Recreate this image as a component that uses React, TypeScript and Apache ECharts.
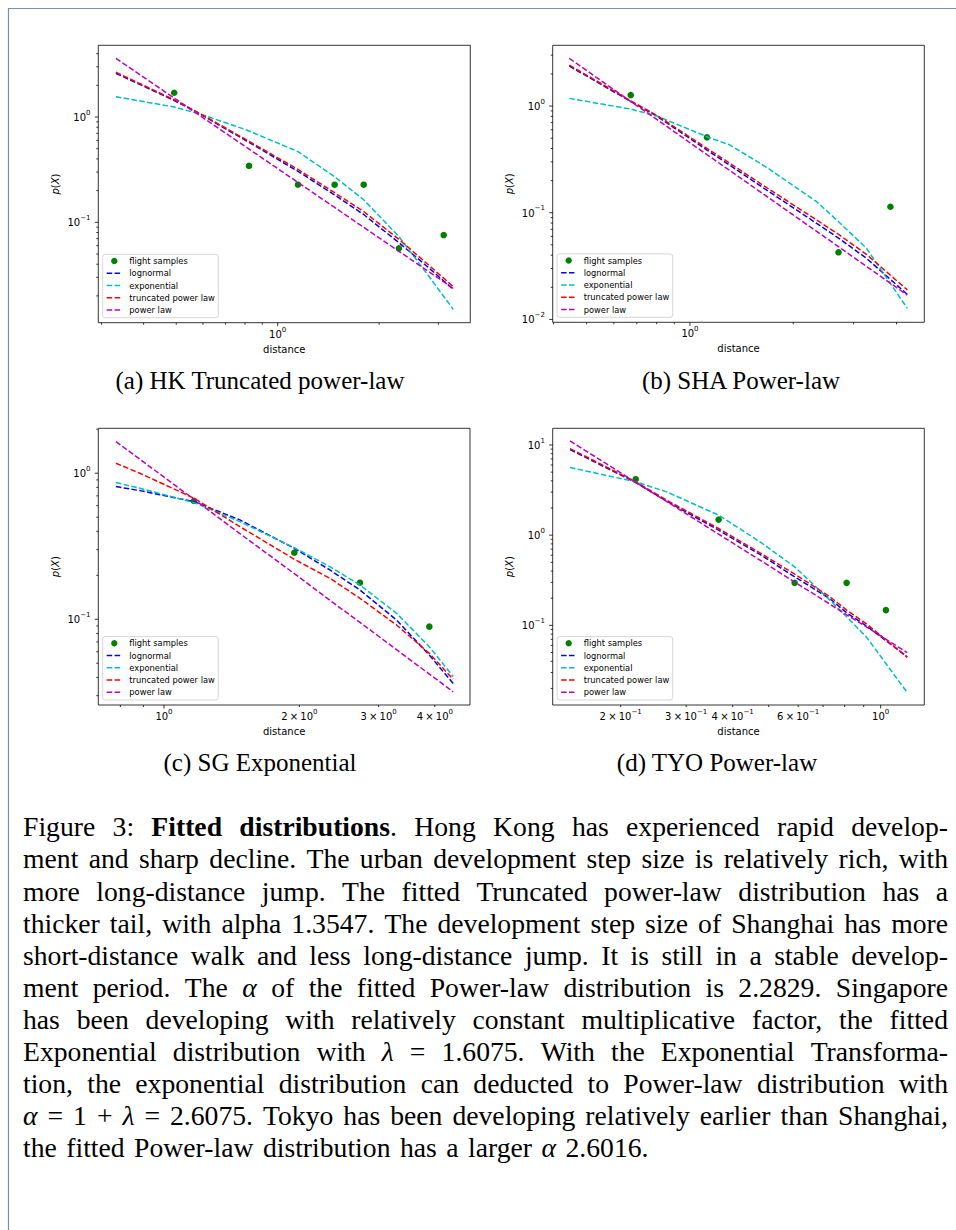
import React, { useEffect, useRef } from 'react';
import * as echarts from 'echarts';

// ---------- data ----------
// (a) HK
const HK_X_RANGE = [0.2935, 3.73];
const HK_Y_RANGE = [0.01113, 4.8];
const HK_SAMPLES_X = [0.493, 0.822, 1.149, 1.476, 1.8, 2.29, 3.11];
const HK_SAMPLES_Y = [1.7, 0.343, 0.2275, 0.2275, 0.2275, 0.0566, 0.0757];
const HK_FIT_X = [0.331, 0.49, 0.588, 0.809, 1.149, 1.476, 1.803, 2.291, 2.767, 3.32];
const HK_LOGNORMAL = [2.6, 1.45, 1.07, 0.592, 0.305, 0.182, 0.118, 0.064, 0.0385, 0.0231];
const HK_EXPONENTIAL = [1.56, 1.25, 1.07, 0.753, 0.469, 0.271, 0.163, 0.073, 0.0328, 0.0149];
const HK_TRUNCATED = [2.66, 1.47, 1.08, 0.605, 0.318, 0.191, 0.126, 0.0689, 0.0408, 0.0245];
const HK_POWERLAW = [3.61, 1.534, 1.03, 0.514, 0.239, 0.1383, 0.0893, 0.053, 0.0351, 0.0236];
const HK_X_TICKS = [0.3, 0.4, 0.5, 0.6, 0.7, 0.8, 0.9, 1, 2, 3];
const HK_X_LABELS = [1];
const HK_Y_TICKS = [0.02, 0.03, 0.04, 0.05, 0.06, 0.07, 0.08, 0.09, 0.1, 0.2, 0.3, 0.4, 0.5, 0.6, 0.7, 0.8, 0.9, 1, 2, 3, 4];
const HK_Y_LABELS = [0.1, 1];

// (b) SHA
const SHA_X_RANGE = [0.398, 4.82];
const SHA_Y_RANGE = [0.0094, 3.71];
const SHA_SAMPLES_X = [0.672, 1.121, 2.71, 3.84];
const SHA_SAMPLES_Y = [1.268, 0.509, 0.0426, 0.1138];
const SHA_FIT_X = [0.445, 0.671, 0.8, 1.121, 1.308, 1.674, 2.34, 2.71, 3.27, 4.3];
const SHA_LOGNORMAL = [2.37, 1.106, 0.806, 0.387, 0.278, 0.163, 0.0795, 0.0579, 0.0374, 0.0172];
const SHA_EXPONENTIAL = [1.18, 0.937, 0.806, 0.516, 0.431, 0.266, 0.1268, 0.0824, 0.0464, 0.0127];
const SHA_TRUNCATED = [2.42, 1.122, 0.818, 0.401, 0.29, 0.1716, 0.0855, 0.0627, 0.0407, 0.0189];
const SHA_POWERLAW = [2.8, 1.106, 0.75, 0.35, 0.248, 0.1423, 0.0669, 0.0481, 0.0314, 0.0169];
const SHA_X_TICKS = [0.4, 0.5, 0.6, 0.7, 0.8, 0.9, 1, 2, 3, 4];
const SHA_X_LABELS = [1];
const SHA_Y_TICKS = [0.01, 0.02, 0.03, 0.04, 0.05, 0.06, 0.07, 0.08, 0.09, 0.1, 0.2, 0.3, 0.4, 0.5, 0.6, 0.7, 0.8, 0.9, 1, 2, 3];
const SHA_Y_LABELS = [0.01, 0.1, 1];

// (c) SG
const SG_X_RANGE = [0.7145, 4.79];
const SG_Y_RANGE = [0.0259, 2.03];
const SG_SAMPLES_X = [1.166, 1.949, 2.727, 3.89];
const SG_SAMPLES_Y = [0.646, 0.286, 0.178, 0.089];
const SG_FIT_X = [0.782, 0.884, 1.166, 1.475, 1.949, 2.338, 2.727, 3.289, 3.889, 4.396];
const SG_LOGNORMAL = [0.81, 0.76, 0.639, 0.479, 0.306, 0.2176, 0.1588, 0.0989, 0.0569, 0.0364];
const SG_EXPONENTIAL = [0.863, 0.789, 0.629, 0.466, 0.309, 0.2293, 0.1718, 0.1099, 0.0649, 0.0405];
const SG_TRUNCATED = [1.17, 1.0, 0.674, 0.431, 0.2575, 0.1908, 0.1392, 0.0914, 0.0585, 0.0388];
const SG_POWERLAW = [1.647, 1.246, 0.663, 0.386, 0.2054, 0.1349, 0.0953, 0.0619, 0.0422, 0.0319];
const SG_X_TICKS = [0.8, 0.9, 1, 2, 3, 4];
const SG_X_LABELS = [1, 2, 3, 4];
const SG_Y_TICKS = [0.03, 0.04, 0.05, 0.06, 0.07, 0.08, 0.09, 0.1, 0.2, 0.3, 0.4, 0.5, 0.6, 0.7, 0.8, 0.9, 1, 2];
const SG_Y_LABELS = [0.1, 1];

// (d) TYO
const TYO_X_RANGE = [0.1313, 1.31];
const TYO_Y_RANGE = [0.0131, 15.3];
const TYO_SAMPLES_X = [0.2195, 0.3667, 0.587, 0.81, 1.033];
const TYO_SAMPLES_Y = [4.17, 1.49, 0.2965, 0.2965, 0.1477];
const TYO_FIT_X = [0.1462, 0.2195, 0.266, 0.3667, 0.4737, 0.587, 0.7306, 0.81, 0.917, 1.179];
const TYO_LOGNORMAL = [8.89, 3.83, 2.38, 1.136, 0.611, 0.3456, 0.1972, 0.138, 0.0982, 0.0449];
const TYO_EXPONENTIAL = [5.62, 3.9, 3.02, 1.665, 0.844, 0.446, 0.1906, 0.1246, 0.0736, 0.01795];
const TYO_TRUNCATED = [9.12, 3.9, 2.44, 1.185, 0.637, 0.37, 0.2075, 0.1477, 0.1034, 0.0442];
const TYO_POWERLAW = [11.08, 3.86, 2.36, 1.026, 0.529, 0.3017, 0.172, 0.131, 0.0958, 0.0498];
const TYO_X_TICKS = [0.2, 0.3, 0.4, 0.5, 0.6, 0.7, 0.8, 0.9, 1];
const TYO_X_LABELS = [0.2, 0.3, 0.4, 0.6, 1];
const TYO_Y_TICKS = [0.02, 0.03, 0.04, 0.05, 0.06, 0.07, 0.08, 0.09, 0.1, 0.2, 0.3, 0.4, 0.5, 0.6, 0.7, 0.8, 0.9, 1, 2, 3, 4, 5, 6, 7, 8, 9, 10];
const TYO_Y_LABELS = [0.1, 1, 10];

const LEGEND_NAMES = ['flight samples', 'lognormal', 'exponential', 'truncated power law', 'power law'];
const X_LABEL = 'distance';
const CAPTIONS = ['(a) HK Truncated power-law', '(b) SHA Power-law', '(c) SG Exponential', '(d) TYO Power-law'];

const PARAGRAPH_LINES = [
  'Figure 3: *Fitted* *distributions*. Hong Kong has experienced rapid develop-',
  'ment and sharp decline. The urban development step size is relatively rich, with',
  'more long-distance jump. The fitted Truncated power-law distribution has a',
  'thicker tail, with alpha 1.3547. The development step size of Shanghai has more',
  'short-distance walk and less long-distance jump. It is still in a stable develop-',
  'ment period. The _\u03b1_ of the fitted Power-law distribution is 2.2829. Singapore',
  'has been developing with relatively constant multiplicative factor, the fitted',
  'Exponential distribution with _\u03bb_ = 1.6075. With the Exponential Transforma-',
  'tion, the exponential distribution can deducted to Power-law distribution with',
  '_\u03b1_ = 1 + _\u03bb_ = 2.6075. Tokyo has been developing relatively earlier than Shanghai,',
  'the fitted Power-law distribution has a larger _\u03b1_ 2.6016.',
];

// ---------- layout / style ----------
const SANS = '"DejaVu Sans", sans-serif';
const SERIF = '"Liberation Serif", "Times New Roman", serif';
const TICK_FONT = `10px ${SANS}`;
const SUP_FONT = `7px ${SANS}`;
const LEGEND_FONT = `8.3px ${SANS}`;

const FIT_STYLES = [
  { key: 'lognormal', name: 'lognormal', color: '#0000ff' },
  { key: 'exponential', name: 'exponential', color: '#00bfbf' },
  { key: 'truncated', name: 'truncated power law', color: '#ff0000' },
  { key: 'powerlaw', name: 'power law', color: '#bf00bf' },
];
const DASH = [5.5, 2.4];

type Plot = {
  box: number[];
  xRange: number[]; yRange: number[];
  sx: number[]; sy: number[]; fx: number[];
  lognormal: number[]; exponential: number[]; truncated: number[]; powerlaw: number[];
  xTicks: number[]; xLabels: number[]; yTicks: number[]; yLabels: number[];
  caption: string; capPos: number[];
};

const PLOTS: Plot[] = [
  {
    box: [98.3, 45.3, 470.3, 322.7], xRange: HK_X_RANGE, yRange: HK_Y_RANGE,
    sx: HK_SAMPLES_X, sy: HK_SAMPLES_Y, fx: HK_FIT_X,
    lognormal: HK_LOGNORMAL, exponential: HK_EXPONENTIAL, truncated: HK_TRUNCATED, powerlaw: HK_POWERLAW,
    xTicks: HK_X_TICKS, xLabels: HK_X_LABELS, yTicks: HK_Y_TICKS, yLabels: HK_Y_LABELS,
    caption: CAPTIONS[0], capPos: [260, 380],
  },
  {
    box: [552.7, 45.3, 924.3, 322.3], xRange: SHA_X_RANGE, yRange: SHA_Y_RANGE,
    sx: SHA_SAMPLES_X, sy: SHA_SAMPLES_Y, fx: SHA_FIT_X,
    lognormal: SHA_LOGNORMAL, exponential: SHA_EXPONENTIAL, truncated: SHA_TRUNCATED, powerlaw: SHA_POWERLAW,
    xTicks: SHA_X_TICKS, xLabels: SHA_X_LABELS, yTicks: SHA_Y_TICKS, yLabels: SHA_Y_LABELS,
    caption: CAPTIONS[1], capPos: [741, 380],
  },
  {
    box: [98.3, 428.3, 470, 705], xRange: SG_X_RANGE, yRange: SG_Y_RANGE,
    sx: SG_SAMPLES_X, sy: SG_SAMPLES_Y, fx: SG_FIT_X,
    lognormal: SG_LOGNORMAL, exponential: SG_EXPONENTIAL, truncated: SG_TRUNCATED, powerlaw: SG_POWERLAW,
    xTicks: SG_X_TICKS, xLabels: SG_X_LABELS, yTicks: SG_Y_TICKS, yLabels: SG_Y_LABELS,
    caption: CAPTIONS[2], capPos: [260, 762],
  },
  {
    box: [552.7, 428.3, 924.3, 705], xRange: TYO_X_RANGE, yRange: TYO_Y_RANGE,
    sx: TYO_SAMPLES_X, sy: TYO_SAMPLES_Y, fx: TYO_FIT_X,
    lognormal: TYO_LOGNORMAL, exponential: TYO_EXPONENTIAL, truncated: TYO_TRUNCATED, powerlaw: TYO_POWERLAW,
    xTicks: TYO_X_TICKS, xLabels: TYO_X_LABELS, yTicks: TYO_Y_TICKS, yLabels: TYO_Y_LABELS,
    caption: CAPTIONS[3], capPos: [717, 762],
  },
];

// ---------- helpers ----------
let measureCtx: CanvasRenderingContext2D | null = null;
function textWidth(text: string, font: string): number {
  if (!measureCtx) measureCtx = document.createElement('canvas').getContext('2d');
  if (!measureCtx) return text.length * 6;
  measureCtx.font = font;
  return measureCtx.measureText(text).width;
}

function isMajor(v: number) {
  const l = Math.log10(v);
  return Math.abs(l - Math.round(l)) < 1e-9;
}

function sciLabelEls(v: number, anchorX: number, cy: number, align: 'center' | 'right') {
  const e = Math.floor(Math.log10(v) + 1e-9);
  const m = Math.round(v / Math.pow(10, e));
  const exp = e < 0 ? '\u2212' + String(-e) : String(e);
  const parts: { t: string; sup?: boolean; gap?: number }[] = [];
  if (m !== 1) {
    parts.push({ t: String(m) }, { t: '', gap: 2.2 }, { t: '\u00d7' }, { t: '', gap: 2.2 });
  }
  parts.push({ t: '10' }, { t: exp, sup: true });
  const widths = parts.map((p) => (p.gap != null ? p.gap : textWidth(p.t, p.sup ? SUP_FONT : TICK_FONT)));
  const total = widths.reduce((a, b) => a + b, 0);
  let x = align === 'center' ? anchorX - total / 2 : anchorX - total;
  const els: any[] = [];
  parts.forEach((p, k) => {
    if (p.t) {
      els.push({
        type: 'text',
        x,
        y: p.sup ? cy - 4.6 : cy,
        style: {
          text: p.t,
          font: p.sup ? SUP_FONT : TICK_FONT,
          fill: '#000',
          textAlign: 'left',
          textVerticalAlign: 'middle',
        },
      });
    }
    x += widths[k];
  });
  return els;
}

function tickSeries(pi: number, plot: Plot, axis: 'x' | 'y') {
  const ticks = axis === 'x' ? plot.xTicks : plot.yTicks;
  const labels = axis === 'x' ? plot.xLabels : plot.yLabels;
  const data = ticks.map((v) => (axis === 'x' ? [v, plot.yRange[0]] : [plot.xRange[0], v]));
  return {
    type: 'custom',
    xAxisIndex: pi,
    yAxisIndex: pi,
    silent: true,
    clip: false,
    z: 5,
    data,
    renderItem: (params: any, api: any) => {
      const v = ticks[params.dataIndex];
      const p = api.coord([api.value(0), api.value(1)]);
      const len = isMajor(v) ? 3.5 : 2;
      const children: any[] = [];
      if (axis === 'x') {
        children.push({
          type: 'line',
          shape: { x1: p[0], y1: p[1], x2: p[0], y2: p[1] + len },
          style: { stroke: '#000', lineWidth: 0.8 },
        });
        if (labels.indexOf(v) >= 0) children.push(...sciLabelEls(v, p[0], p[1] + 11.5, 'center'));
      } else {
        children.push({
          type: 'line',
          shape: { x1: p[0], y1: p[1], x2: p[0] - len, y2: p[1] },
          style: { stroke: '#000', lineWidth: 0.8 },
        });
        if (labels.indexOf(v) >= 0) children.push(...sciLabelEls(v, p[0] - 7.8, p[1] + 0.3, 'right'));
      }
      return { type: 'group', children };
    },
  };
}

function legendEls(plot: Plot) {
  const [L, , , B] = plot.box;
  const x = L + 4.4;
  const y = B - 68.4;
  const els: any[] = [
    {
      type: 'rect',
      shape: { x, y, width: 115.6, height: 63.4, r: 2.5 },
      style: { fill: 'rgba(255,255,255,0.8)', stroke: '#cccccc', lineWidth: 0.8 },
      z: 10,
    },
  ];
  LEGEND_NAMES.forEach((name, i) => {
    const cy = y + 6.7 + i * 12.25;
    if (i === 0) {
      els.push({ type: 'circle', shape: { cx: x + 11.6, cy, r: 3.2 }, style: { fill: '#008000' }, z: 11 });
    } else {
      els.push({
        type: 'line',
        shape: { x1: x + 4, y1: cy, x2: x + 19.5, y2: cy },
        style: { stroke: FIT_STYLES[i - 1].color, lineWidth: 1.5, lineDash: DASH },
        z: 11,
      });
    }
    els.push({
      type: 'text',
      x: x + 26.6,
      y: cy,
      style: { text: name, font: LEGEND_FONT, fill: '#000', textAlign: 'left', textVerticalAlign: 'middle' },
      z: 11,
    });
  });
  return els;
}

function axisLabelEls(plot: Plot) {
  const [L, T, R, B] = plot.box;
  return [
    {
      type: 'text',
      x: (L + R) / 2,
      y: B + 26.5,
      style: { text: X_LABEL, font: `10px ${SANS}`, fill: '#000', textAlign: 'center', textVerticalAlign: 'middle' },
    },
    {
      type: 'text',
      x: L - 43,
      y: (T + B) / 2,
      rotation: Math.PI / 2,
      style: {
        text: '{i|p}{n|(}{i|X}{n|)}',
        rich: {
          i: { fontStyle: 'italic', fontSize: 10, fontFamily: SANS, fill: '#000' },
          n: { fontSize: 10, fontFamily: SANS, fill: '#000' },
        },
        fill: '#000',
        textAlign: 'center',
        textVerticalAlign: 'middle',
      },
    },
  ];
}

function paragraphEls() {
  const L = 23;
  const R = 948;
  const mid0 = 827.5;
  const lh = 32.1;
  const size = 27;
  const sx = 1.025; // slight horizontal stretch to approximate Computer Modern widths
  const fonts: Record<string, string> = {
    n: `${size}px ${SERIF}`,
    b: `bold ${size}px ${SERIF}`,
    i: `italic ${size}px ${SERIF}`,
  };
  const els: any[] = [];
  PARAGRAPH_LINES.forEach((line, li) => {
    const words = line.split(' ').map((w) => {
      const segs: { t: string; s: string; w: number }[] = [];
      let bold = false;
      let ital = false;
      let cur = '';
      const flush = () => {
        if (cur) {
          const s = bold ? 'b' : ital ? 'i' : 'n';
          segs.push({ t: cur, s, w: textWidth(cur, fonts[s]) * sx });
          cur = '';
        }
      };
      for (const ch of w) {
        if (ch === '*') { flush(); bold = !bold; }
        else if (ch === '_') { flush(); ital = !ital; }
        else cur += ch;
      }
      flush();
      return { segs, w: segs.reduce((a, b) => a + b.w, 0) };
    });
    const total = words.reduce((a, b) => a + b.w, 0);
    const justify = li < PARAGRAPH_LINES.length - 1;
    const gap = justify ? Math.max(4, (R - L - total) / (words.length - 1)) : size * 0.35;
    let x = L;
    const cy = mid0 + li * lh;
    words.forEach((w) => {
      w.segs.forEach((s) => {
        els.push({
          type: 'text',
          x,
          y: cy,
          scaleX: sx,
          style: { text: s.t, font: fonts[s.s], fill: '#000', textAlign: 'left', textVerticalAlign: 'middle' },
        });
        x += s.w;
      });
      x += gap;
    });
  });
  return els;
}

function buildOption() {
  const grids: any[] = [];
  const xAxes: any[] = [];
  const yAxes: any[] = [];
  const series: any[] = [];
  const graphics: any[] = [];

  PLOTS.forEach((p, i) => {
    const [L, T, R, B] = p.box;
    grids.push({
      left: L, top: T, width: R - L, height: B - T,
      show: true, borderColor: '#000', borderWidth: 0.8, backgroundColor: 'rgba(0,0,0,0)',
      containLabel: false,
    });
    xAxes.push({ type: 'log', logBase: 10, gridIndex: i, min: p.xRange[0], max: p.xRange[1], show: false });
    yAxes.push({ type: 'log', logBase: 10, gridIndex: i, min: p.yRange[0], max: p.yRange[1], show: false });
    series.push({
      type: 'scatter',
      name: LEGEND_NAMES[0],
      xAxisIndex: i,
      yAxisIndex: i,
      data: p.sx.map((x, k) => [x, p.sy[k]]),
      symbol: 'circle',
      symbolSize: 6.6,
      itemStyle: { color: '#008000', opacity: 1 },
      silent: true,
    });
    FIT_STYLES.forEach((f) => {
      const arr = (p as any)[f.key] as number[];
      series.push({
        type: 'line',
        name: f.name,
        xAxisIndex: i,
        yAxisIndex: i,
        data: p.fx.map((x, k) => [x, arr[k]]),
        showSymbol: false,
        symbol: 'none',
        lineStyle: { color: f.color, width: 1.5, type: DASH },
        silent: true,
      });
    });
    series.push(tickSeries(i, p, 'x'));
    series.push(tickSeries(i, p, 'y'));
    graphics.push(...legendEls(p));
    graphics.push(...axisLabelEls(p));
    graphics.push({
      type: 'text',
      x: p.capPos[0],
      y: p.capPos[1],
      style: { text: p.caption, font: `25px ${SERIF}`, fill: '#000', textAlign: 'center', textVerticalAlign: 'middle' },
    });
  });

  // page border (top and left edges)
  graphics.push({
    type: 'line',
    shape: { x1: 8.5, y1: 8, x2: 8.5, y2: 1230 },
    style: { stroke: '#7f8ea8', lineWidth: 1.2 },
  });
  graphics.push({
    type: 'line',
    shape: { x1: 8, y1: 8.5, x2: 956, y2: 8.5 },
    style: { stroke: '#7f8ea8', lineWidth: 1.2 },
  });
  graphics.push(...paragraphEls());

  return {
    animation: false,
    backgroundColor: '#ffffff',
    grid: grids,
    xAxis: xAxes,
    yAxis: yAxes,
    series,
    graphic: { elements: graphics },
  };
}

export default function App() {
  const ref = useRef<HTMLDivElement>(null);
  useEffect(() => {
    if (!ref.current) return;
    const chart = echarts.init(ref.current, undefined, { renderer: 'svg' });
    chart.setOption(buildOption() as any);
    return () => chart.dispose();
  }, []);
  return (
    <div
      ref={ref}
      style={{ position: 'absolute', left: 0, top: 0, width: 956, height: 1230, background: '#fff' }}
    />
  );
}
